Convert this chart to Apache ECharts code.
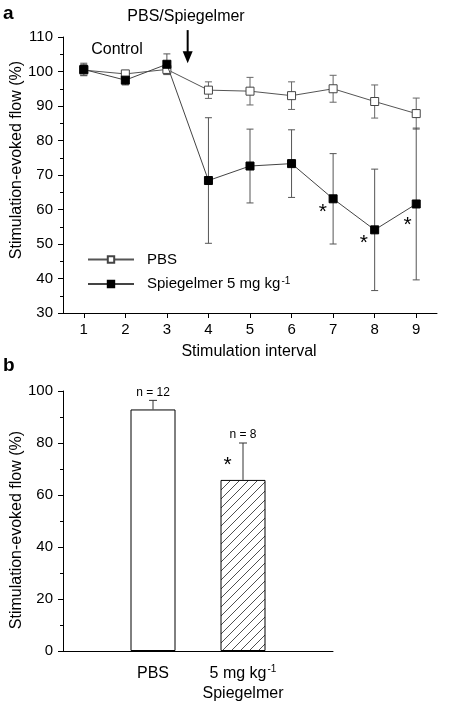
<!DOCTYPE html>
<html><head><meta charset="utf-8">
<script src="https://cdn.jsdelivr.net/npm/echarts@6/dist/echarts.min.js"></script>
<style>html,body{margin:0;padding:0;background:#fff}#c{width:456px;height:704px}</style>
</head><body><div id="c"></div>
<script>
// ---- Panel a data ----
const intervals = [1, 2, 3, 4, 5, 6, 7, 8, 9];
const pbsMean = [100.4, 99.3, 100.6, 94.6, 94.3, 93.0, 95.0, 91.3, 87.8];
const pbsErr  = [1.6, 1.0, 1.4, 2.4, 4.0, 4.0, 3.9, 4.8, 4.5];
const spiMean = [100.6, 97.5, 102.1, 68.4, 72.6, 73.3, 63.1, 54.1, 61.6];
const spiErr  = [1.8, 1.4, 3.0, 18.2, 10.7, 9.8, 13.1, 17.6, 22.0];
const yTicksA = [30, 40, 50, 60, 70, 80, 90, 100, 110];
const starXA = [6.75, 7.74, 8.79];
const starYA = [61.0, 52.0, 57.2];
const arrowX = 3.5, arrowTop = 112.0, arrowTip = 102.4;

// ---- Panel b data ----
const barCats = ['PBS', 'Spiegelmer'];
const barPos = [1, 2];
const barMean = [92.9, 65.8];
const barErr = [3.5, 14.2];
const barN = ['n = 12', 'n = 8'];
const barTickLabels = ['PBS', '5 mg kg{sup|-1}\nSpiegelmer'];
const starXB = [1.83];
const starYB = [73.7];

const FONT = '"Liberation Sans", Arial, Helvetica, sans-serif';

// hatch pattern
const pc = document.createElement('canvas');
pc.width = 9; pc.height = 9;
const g = pc.getContext('2d');
g.fillStyle = '#fff'; g.fillRect(0, 0, 9, 9);
g.strokeStyle = '#222'; g.lineWidth = 0.8;
g.beginPath();
g.moveTo(0, 9); g.lineTo(9, 0);
g.moveTo(-1, 1); g.lineTo(1, -1);
g.moveTo(8, 10); g.lineTo(10, 8);
g.stroke();

function errRender(half, color, labels) {
  return function (params, api) {
    const x = api.value(0), lo = api.value(1), hi = api.value(2);
    const pLo = api.coord([x, lo]), pHi = api.coord([x, hi]);
    const st = { stroke: color, lineWidth: 1 };
    const ch = [
      { type: 'line', shape: { x1: pLo[0], y1: pLo[1], x2: pHi[0], y2: pHi[1] }, style: st },
      { type: 'line', shape: { x1: pHi[0] - half, y1: pHi[1], x2: pHi[0] + half, y2: pHi[1] }, style: st }
    ];
    if (!labels) {
      ch.push({ type: 'line', shape: { x1: pLo[0] - half, y1: pLo[1], x2: pLo[0] + half, y2: pLo[1] }, style: st });
    } else {
      ch.push({ type: 'text', x: pHi[0], y: pHi[1] - 8,
        style: { text: labels[params.dataIndex], fontSize: 12, fontFamily: FONT, fill: '#000', align: 'center', verticalAlign: 'middle' } });
    }
    return { type: 'group', children: ch };
  };
}

function starRender(params, api) {
  const p = api.coord([api.value(0), api.value(1)]);
  return { type: 'text', x: p[0], y: p[1] + 6,
    style: { text: '*', fontSize: 21, fontFamily: FONT, fill: '#000', align: 'center', verticalAlign: 'middle' } };
}

const chart = echarts.init(document.getElementById('c'), null, { renderer: 'canvas' });

const axisLineStyle = { show: true, lineStyle: { color: '#000', width: 1 } };

chart.setOption({
  animation: false,
  backgroundColor: '#fff',
  textStyle: { fontFamily: FONT, color: '#000' },
  grid: [
    { left: 63, top: 37, width: 374, height: 276 },
    { left: 63, top: 391, width: 270, height: 264 }
  ],
  legend: {
    orient: 'vertical', left: 82, top: 247, itemWidth: 46, itemHeight: 8, itemGap: 9,
    data: ['PBS', 'Spiegelmer'],
    formatter: function (n) { return n === 'Spiegelmer' ? 'Spiegelmer 5 mg kg{sup|-1}' : n; },
    textStyle: { fontSize: 15, color: '#000', fontFamily: FONT, padding: [0, 0, 0, 8],
      rich: { sup: { fontSize: 10, verticalAlign: 'top', padding: [0, 0, 6, 1], fontFamily: FONT } } }
  },
  xAxis: [
    { gridIndex: 0, type: 'value', min: 0.5, max: 9.5,
      axisLine: axisLineStyle,
      axisTick: { show: true, inside: false, length: 5, customValues: intervals, lineStyle: { color: '#000' } },
      axisLabel: { customValues: intervals, fontSize: 15, color: '#000', margin: 9, fontFamily: FONT },
      splitLine: { show: false } },
    { gridIndex: 1, type: 'value', min: 0, max: 3,
      axisLine: axisLineStyle,
      axisTick: { show: false },
      axisLabel: { customValues: barPos, fontSize: 16, color: '#000', margin: 13, lineHeight: 20, fontFamily: FONT,
        formatter: function (v) { const i = barPos.indexOf(v); return i >= 0 ? barTickLabels[i] : ''; },
        rich: { sup: { fontSize: 10, verticalAlign: 'top', padding: [0, 0, 8, 1], fontFamily: FONT } } },
      splitLine: { show: false } }
  ],
  yAxis: [
    { gridIndex: 0, type: 'value', min: 30, max: 110, interval: 10,
      axisLine: axisLineStyle,
      axisTick: { show: true, inside: false, length: 5, lineStyle: { color: '#000' } },
      minorTick: { show: true, splitNumber: 2, length: 3, lineStyle: { color: '#000' } },
      axisLabel: { fontSize: 15, color: '#000', margin: 10, fontFamily: FONT },
      splitLine: { show: false } },
    { gridIndex: 1, type: 'value', min: 0, max: 100, interval: 20,
      axisLine: axisLineStyle,
      axisTick: { show: true, inside: false, length: 5, lineStyle: { color: '#000' } },
      minorTick: { show: true, splitNumber: 2, length: 3, lineStyle: { color: '#000' } },
      axisLabel: { fontSize: 15, color: '#000', margin: 10, fontFamily: FONT },
      splitLine: { show: false } }
  ],
  graphic: [
    { type: 'text', left: 3, top: 4, style: { text: 'a', font: 'bold 19px ' + FONT, fill: '#000' } },
    { type: 'text', left: 3, top: 356, style: { text: 'b', font: 'bold 19px ' + FONT, fill: '#000' } },
    { type: 'text', x: 186, y: 17, style: { text: 'PBS/Spiegelmer', fontSize: 16, fontFamily: FONT, fill: '#000', align: 'center', verticalAlign: 'middle' } },
    { type: 'text', x: 117, y: 50, style: { text: 'Control', fontSize: 16, fontFamily: FONT, fill: '#000', align: 'center', verticalAlign: 'middle' } },
    { type: 'text', x: 17, y: 160, rotation: Math.PI / 2, style: { text: 'Stimulation-evoked flow (%)', fontSize: 16, fontFamily: FONT, fill: '#000', align: 'center', verticalAlign: 'middle' } },
    { type: 'text', x: 249, y: 352, style: { text: 'Stimulation interval', fontSize: 16, fontFamily: FONT, fill: '#000', align: 'center', verticalAlign: 'middle' } },
    { type: 'text', x: 17, y: 530, rotation: Math.PI / 2, style: { text: 'Stimulation-evoked flow (%)', fontSize: 16, fontFamily: FONT, fill: '#000', align: 'center', verticalAlign: 'middle' } }
  ],
  series: [
    { name: 'PBS err', type: 'custom', xAxisIndex: 0, yAxisIndex: 0, z: 1,
      renderItem: errRender(3.5, '#666'),
      encode: { x: 0, y: [1, 2] },
      data: intervals.map((x, i) => [x, pbsMean[i] - pbsErr[i], pbsMean[i] + pbsErr[i]]) },
    { name: 'Spiegelmer err', type: 'custom', xAxisIndex: 0, yAxisIndex: 0, z: 1,
      renderItem: errRender(3.5, '#555'),
      encode: { x: 0, y: [1, 2] },
      data: intervals.map((x, i) => [x, spiMean[i] - spiErr[i], spiMean[i] + spiErr[i]]) },
    { name: 'PBS', type: 'line', xAxisIndex: 0, yAxisIndex: 0, z: 3,
      symbol: 'rect', symbolSize: 8,
      itemStyle: { color: '#fff', borderColor: '#444', borderWidth: 1 },
      lineStyle: { color: '#555', width: 1 },
      data: intervals.map((x, i) => [x, pbsMean[i]]) },
    { name: 'Spiegelmer', type: 'line', xAxisIndex: 0, yAxisIndex: 0, z: 4,
      symbol: 'rect', symbolSize: 8,
      itemStyle: { color: '#000', borderColor: '#000', borderWidth: 1 },
      lineStyle: { color: '#444', width: 1 },
      data: intervals.map((x, i) => [x, spiMean[i]]) },
    { name: 'stars a', type: 'custom', xAxisIndex: 0, yAxisIndex: 0, z: 5,
      renderItem: starRender, data: starXA.map((x, i) => [x, starYA[i]]) },
    { name: 'arrow', type: 'custom', xAxisIndex: 0, yAxisIndex: 0, z: 5, clip: false,
      renderItem: function (params, api) {
        const t = api.coord([api.value(0), api.value(1)]);
        const b = api.coord([api.value(0), api.value(2)]);
        return { type: 'group', children: [
          { type: 'line', shape: { x1: t[0], y1: t[1], x2: b[0], y2: b[1] - 10 }, style: { stroke: '#000', lineWidth: 2 } },
          { type: 'polygon', shape: { points: [[b[0] - 5, b[1] - 12], [b[0] + 5, b[1] - 12], [b[0], b[1]]] }, style: { fill: '#000' } }
        ] };
      },
      data: [[arrowX, arrowTop, arrowTip]] },
    { name: 'bars', type: 'bar', xAxisIndex: 1, yAxisIndex: 1, barWidth: 45, z: 2,
      data: barPos.map((x, i) => ({ value: [x, barMean[i]],
        itemStyle: i === 0 ? { color: '#fff', borderColor: '#000', borderWidth: 1 }
                           : { color: { image: pc, repeat: 'repeat' }, borderColor: '#000', borderWidth: 1 } })) },
    { name: 'bar err', type: 'custom', xAxisIndex: 1, yAxisIndex: 1, z: 3,
      renderItem: errRender(4, '#333', barN),
      encode: { x: 0, y: [1, 2] },
      data: barPos.map((x, i) => [x, barMean[i], barMean[i] + barErr[i]]) },
    { name: 'stars b', type: 'custom', xAxisIndex: 1, yAxisIndex: 1, z: 5,
      renderItem: starRender, data: starXB.map((x, i) => [x, starYB[i]]) }
  ]
});
</script>
</body></html>
